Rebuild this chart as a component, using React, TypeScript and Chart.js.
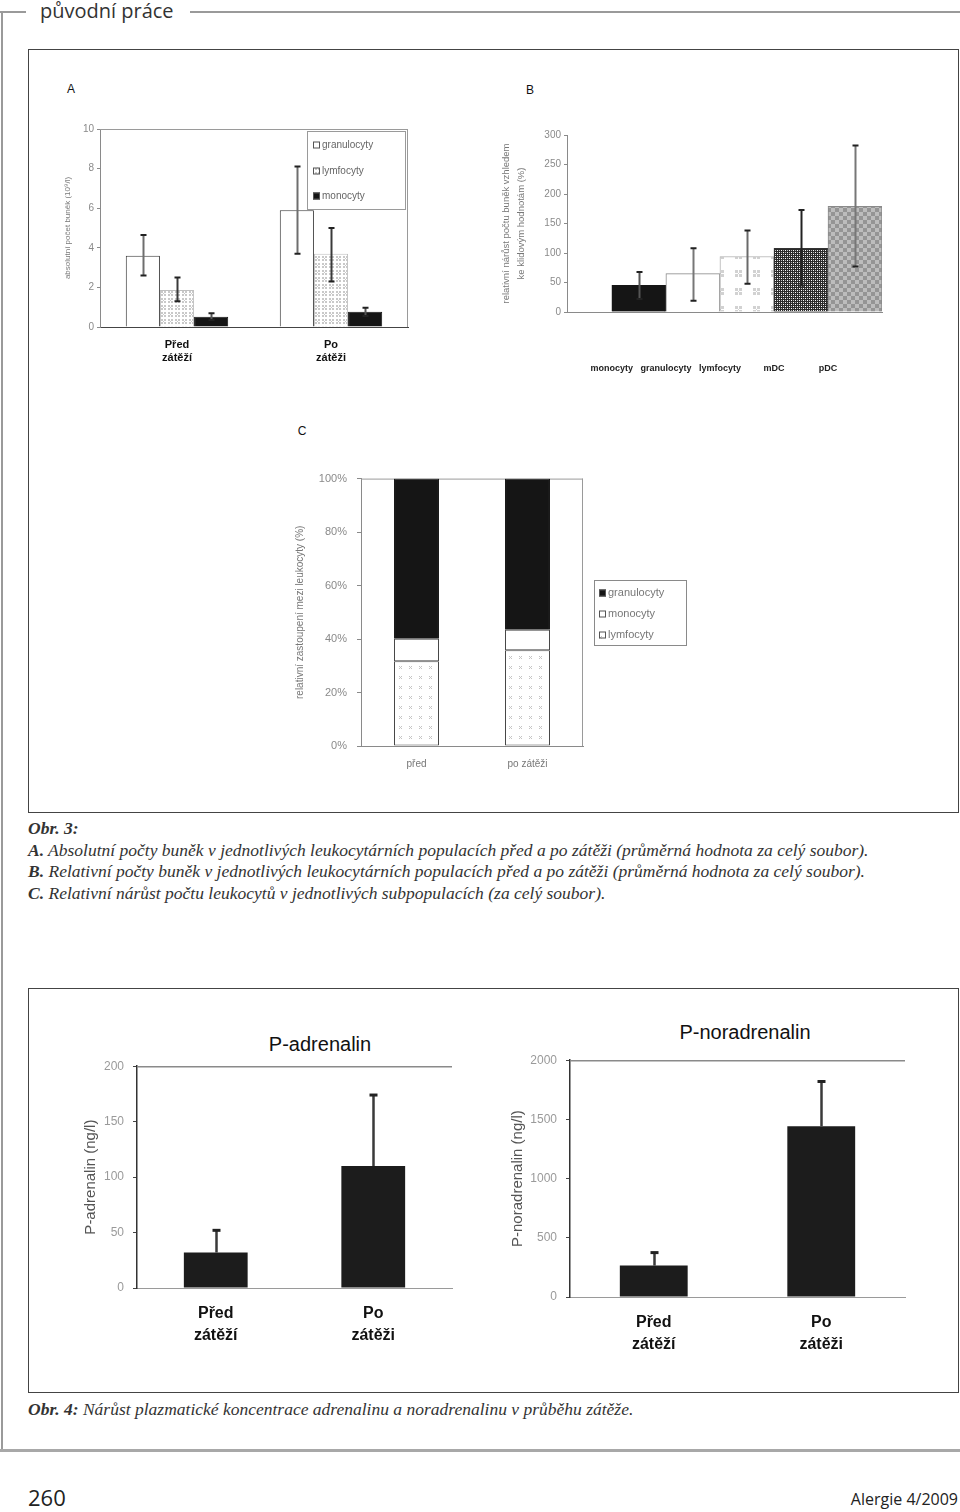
import React, { useEffect, useRef } from 'react';
import { Chart, registerables } from 'chart.js';

Chart.register(...registerables);

// ---------------- DATA ----------------
// Chart A – absolute counts (10^9/l)
const aCategories = [['Před', 'zátěží'], ['Po', 'zátěži']];
const aSeriesNames = ['granulocyty', 'lymfocyty', 'monocyty'];
const aGranulocyty = [3.6, 5.9];
const aGranulocytyErr = [[2.6, 4.65], [3.7, 8.1]];
const aLymfocyty = [1.87, 3.7];
const aLymfocytyErr = [[1.3, 2.5], [2.3, 5.0]];
const aMonocyty = [0.52, 0.77];
const aMonocytyErr = [[0.35, 0.69], [0.55, 0.97]];
const aYMax = 10;
const aYStep = 2;

// Chart B – relative increase (%)
const bCategories = ['monocyty', 'granulocyty', 'lymfocyty', 'mDC', 'pDC'];
const bValues = [45, 65, 94, 108, 179];
const bErrLow = [22, 19, 48, 45, 77];
const bErrHigh = [68, 108, 138, 173, 282];
const bYMax = 300;
const bYStep = 50;

// Chart C – relative composition (%)
const cCategories = ['před', 'po zátěži'];
const cLymfocyty = [31.7, 35.8];
const cMonocyty = [8.4, 7.7];
const cGranulocyty = [59.9, 56.5];

// Obr. 4 – P-adrenalin (ng/l)
const adCategories = [['Před', 'zátěží'], ['Po', 'zátěži']];
const adValues = [32, 110];
const adErrTop = [52, 174];
const adYMax = 200;
const adYStep = 50;

// Obr. 4 – P-noradrenalin (ng/l)
const noCategories = [['Před', 'zátěží'], ['Po', 'zátěži']];
const noValues = [265, 1442];
const noErrTop = [375, 1820];
const noYMax = 2000;
const noYStep = 500;

// ---------------- STYLE HELPERS ----------------
const SANS = '"Liberation Sans", Arial, Helvetica, sans-serif';
const SERIF = '"Liberation Serif", "Times New Roman", serif';

function makePattern(size: number, bg: string, draw: (c: CanvasRenderingContext2D) => void) {
  const t = document.createElement('canvas');
  t.width = size;
  t.height = size;
  const c = t.getContext('2d')!;
  c.fillStyle = bg;
  c.fillRect(0, 0, size, size);
  draw(c);
  const host = document.createElement('canvas').getContext('2d')!;
  return host.createPattern(t, 'repeat')!;
}

function makePatterns() {
  const crossAt = (c: CanvasRenderingContext2D, x: number, y: number, s: number) => {
    c.fillRect(x - s, y - s, s, s);
    c.fillRect(x + 1, y - s, s, s);
    c.fillRect(x, y, 1, 1);
    c.fillRect(x - s, y + 1, s, s);
    c.fillRect(x + 1, y + 1, s, s);
  };
  return {
    dotsA: makePattern(7, '#ffffff', (c) => {
      c.fillStyle = '#c9c9c9';
      crossAt(c, 3, 3, 2);
    }),
    dotsBig: makePattern(18, '#ffffff', (c) => {
      c.fillStyle = '#d2d2d2';
      crossAt(c, 9, 9, 3);
    }),
    dotsC: makePattern(10, '#ffffff', (c) => {
      c.fillStyle = '#c4c4c4';
      crossAt(c, 5, 5, 1);
    }),
    dense: makePattern(4, '#2a2a2a', (c) => {
      c.fillStyle = '#ffffff';
      c.fillRect(0, 0, 1, 1);
      c.fillRect(2, 2, 1, 1);
      c.fillStyle = '#bbbbbb';
      c.fillRect(2, 0, 1, 1);
      c.fillRect(0, 2, 1, 1);
    }),
    gray: makePattern(8, '#959595', (c) => {
      c.fillStyle = '#bdbdbd';
      c.fillRect(0, 0, 4, 4);
      c.fillRect(4, 4, 4, 4);
    }),
  };
}

// ---------------- PLUGINS ----------------
const errorBarsPlugin = {
  id: 'errorBars',
  afterDatasetsDraw(chart: any) {
    const { ctx } = chart;
    const yScale = chart.scales.y;
    chart.data.datasets.forEach((ds: any, di: number) => {
      if (!ds.errors) return;
      const meta = chart.getDatasetMeta(di);
      meta.data.forEach((el: any, i: number) => {
        const e = ds.errors[i];
        if (!e) return;
        const x = Math.round(el.x) + 0.5;
        const y0 = yScale.getPixelForValue(e[0]);
        const y1 = yScale.getPixelForValue(e[1]);
        const color = Array.isArray(ds.errColor) ? ds.errColor[i] : ds.errColor;
        const cap = ds.errCap ?? 6;
        ctx.save();
        ctx.strokeStyle = color;
        ctx.lineWidth = ds.errWidth ?? 2;
        ctx.beginPath();
        ctx.moveTo(x, y0);
        ctx.lineTo(x, y1);
        ctx.stroke();
        ctx.strokeStyle = ds.capColor ?? color;
        ctx.lineWidth = ds.capWidth ?? 2;
        ctx.beginPath();
        ctx.moveTo(x - cap / 2, y1);
        ctx.lineTo(x + cap / 2, y1);
        if (ds.errBothCaps !== false) {
          ctx.moveTo(x - cap / 2, y0);
          ctx.lineTo(x + cap / 2, y0);
        }
        ctx.stroke();
        ctx.restore();
      });
    });
  },
};

const framePlugin = {
  id: 'frame',
  beforeDatasetsDraw(chart: any, _a: any, opts: any) {
    if (!opts || !opts.sides) return;
    const { ctx, chartArea } = chart;
    const { left, right, top, bottom } = chartArea;
    ctx.save();
    ctx.strokeStyle = opts.color;
    ctx.lineWidth = opts.width || 1;
    ctx.beginPath();
    if (opts.sides.includes('top')) {
      ctx.moveTo(left, top + 0.5);
      ctx.lineTo(right, top + 0.5);
    }
    if (opts.sides.includes('right')) {
      ctx.moveTo(right - 0.5, top);
      ctx.lineTo(right - 0.5, bottom);
    }
    ctx.stroke();
    ctx.restore();
  },
};

const boxLegendPlugin = {
  id: 'boxLegend',
  afterDraw(chart: any, _a: any, opts: any) {
    if (!opts || !opts.items) return;
    const { ctx, chartArea } = chart;
    const bx = Math.round((opts.anchor === 'right' ? chartArea.right : chartArea.left) + opts.dx);
    const by = Math.round(chartArea.top + opts.dy);
    ctx.save();
    ctx.fillStyle = '#ffffff';
    ctx.fillRect(bx, by, opts.w, opts.h);
    ctx.strokeStyle = opts.border;
    ctx.lineWidth = 1;
    ctx.strokeRect(bx + 0.5, by + 0.5, opts.w, opts.h);
    ctx.font = opts.font;
    ctx.textBaseline = 'middle';
    ctx.textAlign = 'left';
    opts.items.forEach((di: number, k: number) => {
      const ds = chart.data.datasets[di];
      const yy = Math.round(by + opts.firstRow + k * opts.rowGap);
      const s = opts.swatch;
      const sx = bx + opts.padX;
      ctx.fillStyle = Array.isArray(ds.backgroundColor) ? ds.backgroundColor[0] : ds.backgroundColor;
      ctx.fillRect(sx, yy - s / 2, s, s);
      ctx.strokeStyle = '#555';
      ctx.strokeRect(sx + 0.5, yy - s / 2 + 0.5, s - 1, s - 1);
      ctx.fillStyle = opts.color;
      ctx.fillText(ds.label, sx + s + 2, yy);
    });
    ctx.restore();
  },
};

const PLUGINS = [framePlugin, errorBarsPlugin, boxLegendPlugin];

const fitX = (h: number) => (s: any) => {
  s.height = h;
  s.paddingLeft = 0;
  s.paddingRight = 0;
};
const fitY = (w: number) => (s: any) => {
  s.width = w;
};

// ---------------- CONFIGS ----------------
function configA(P: any) {
  return {
    type: 'bar',
    data: {
      labels: aCategories,
      datasets: [
        { label: aSeriesNames[0], data: aGranulocyty, backgroundColor: '#ffffff', borderColor: '#3a3a3a', borderWidth: 1, errors: aGranulocytyErr, errColor: '#6e6e6e', capColor: '#222' },
        { label: aSeriesNames[1], data: aLymfocyty, backgroundColor: P.dotsA, borderColor: '#c0c0c0', borderWidth: 1, errors: aLymfocytyErr, errColor: '#3a3a3a', capColor: '#222' },
        { label: aSeriesNames[2], data: aMonocyty, backgroundColor: '#151515', borderColor: '#151515', borderWidth: 1, errors: aMonocytyErr, errColor: '#555', capColor: '#222' },
      ],
    },
    options: {
      responsive: false,
      animation: false,
      events: [],
      layout: { padding: { top: 14, right: 7, left: 0, bottom: 0 } },
      datasets: { bar: { categoryPercentage: 0.665, barPercentage: 1 } },
      plugins: {
        legend: { display: false },
        tooltip: { enabled: false },
        frame: { sides: ['top', 'right'], color: '#9a9a9a' },
        boxLegend: { anchor: 'right', dx: -101, dy: 2, w: 98, h: 78, border: '#9a9a9a', items: [0, 1, 2], firstRow: 14, rowGap: 25.5, swatch: 7, padX: 6, font: `10px ${SANS}`, color: '#666' },
      },
      scales: {
        x: {
          grid: { display: false, drawTicks: false },
          border: { color: '#444' },
          ticks: { color: '#111', font: { family: SANS, size: 11, weight: 'bold', lineHeight: 1.2 }, padding: 11, maxRotation: 0, autoSkip: false },
          afterFit: fitX(48),
        },
        y: {
          min: 0,
          max: aYMax,
          ticks: { stepSize: aYStep, color: '#8a8a8a', font: { family: SANS, size: 10 }, padding: 3 },
          grid: { drawOnChartArea: false, tickLength: 3, color: '#8a8a8a' },
          border: { color: '#8a8a8a' },
          title: { display: true, text: 'absolutní počet buněk (10⁹/l)', color: '#7a7a7a', font: { family: SANS, size: 8 }, padding: { top: 8, bottom: 0 } },
          afterFit: fitY(45),
        },
      },
    },
    plugins: PLUGINS,
  };
}

function configB(P: any) {
  return {
    type: 'bar',
    data: {
      datasets: [
        {
          label: 'B',
          data: bValues.map((v, i) => ({ x: i, y: v })),
          backgroundColor: ['#151515', '#ffffff', P.dotsBig, P.dense, P.gray],
          borderColor: ['#151515', '#8a8a8a', '#b0b0b0', '#333', '#8a8a8a'],
          borderWidth: 1,
          barThickness: 54,
          errors: bValues.map((_, i) => [bErrLow[i], bErrHigh[i]]),
          errColor: ['#555', '#777', '#6a6a6a', '#222', '#777'],
          capColor: '#222',
        },
      ],
    },
    options: {
      responsive: false,
      animation: false,
      events: [],
      layout: { padding: { top: 15, right: 8, left: 0, bottom: 0 } },
      plugins: { legend: { display: false }, tooltip: { enabled: false } },
      scales: {
        x: {
          type: 'linear',
          offset: false,
          min: -1.33,
          max: 4.5,
          grid: { display: false, drawTicks: false },
          border: { color: '#8a8a8a' },
          ticks: {
            stepSize: 1,
            autoSkip: false,
            maxRotation: 0,
            callback: (v: number) => (Number.isInteger(v) && bCategories[v] ? bCategories[v] : ''),
            labelOffset: -27,
            padding: 51,
            color: '#222',
            font: { family: SANS, size: 9, weight: 'bold' },
          },
          afterFit: fitX(78),
        },
        y: {
          min: 0,
          max: bYMax,
          ticks: { stepSize: bYStep, color: '#8a8a8a', font: { family: SANS, size: 10 }, padding: 3 },
          grid: { drawOnChartArea: false, tickLength: 3, color: '#8a8a8a' },
          border: { color: '#8a8a8a' },
          title: {
            display: true,
            text: ['relativní nárůst počtu buněk vzhledem', 'ke klidovým hodnotám (%)'],
            color: '#777',
            font: { family: SANS, size: 9.5, lineHeight: 1.6 },
            padding: { top: 4, bottom: 0 },
          },
          afterFit: fitY(72),
        },
      },
    },
    plugins: PLUGINS,
  };
}

function configC(P: any) {
  return {
    type: 'bar',
    data: {
      labels: cCategories,
      datasets: [
        { label: 'lymfocyty', data: cLymfocyty, backgroundColor: P.dotsC, borderColor: '#444', borderWidth: 1, borderSkipped: false },
        { label: 'monocyty', data: cMonocyty, backgroundColor: '#ffffff', borderColor: '#444', borderWidth: 1, borderSkipped: false },
        { label: 'granulocyty', data: cGranulocyty, backgroundColor: '#151515', borderColor: '#151515', borderWidth: 1 },
      ],
    },
    options: {
      responsive: false,
      animation: false,
      events: [],
      layout: { padding: { top: 14, right: 122, left: 0, bottom: 0 } },
      datasets: { bar: { categoryPercentage: 0.405, barPercentage: 1 } },
      plugins: {
        legend: { display: false },
        tooltip: { enabled: false },
        frame: { sides: ['top', 'right'], color: '#9a9a9a' },
        boxLegend: { anchor: 'right', dx: 11, dy: 101, w: 92, h: 65, border: '#8a8a8a', items: [2, 1, 0], firstRow: 13, rowGap: 21, swatch: 7, padX: 5, font: `11px ${SANS}`, color: '#777' },
      },
      scales: {
        x: {
          stacked: true,
          grid: { display: false, drawTicks: false },
          border: { color: '#8a8a8a' },
          ticks: { color: '#777', font: { family: SANS, size: 10 }, padding: 12, maxRotation: 0 },
          afterFit: fitX(36),
        },
        y: {
          stacked: true,
          min: 0,
          max: 100,
          ticks: { stepSize: 20, color: '#8a8a8a', font: { family: SANS, size: 11 }, padding: 10, callback: (v: number) => `${v}%` },
          grid: { drawOnChartArea: false, tickLength: 4, color: '#8a8a8a' },
          border: { color: '#8a8a8a' },
          title: { display: true, text: 'relativní zastoupení mezi leukocyty (%)', color: '#777', font: { family: SANS, size: 10 }, padding: { top: 9, bottom: 0 } },
          afterFit: fitY(76),
        },
      },
    },
    plugins: PLUGINS,
  };
}

function configBottom(labels: any, values: number[], errTop: number[], yMax: number, yStep: number, yTitle: string, yWidth: number, titlePad: number, padRight: number, xHeight: number) {
  return {
    type: 'bar',
    data: {
      labels,
      datasets: [
        {
          label: yTitle,
          data: values,
          backgroundColor: '#1c1c1c',
          borderWidth: 0,
          errors: values.map((v, i) => [v, errTop[i]]),
          errColor: '#3a3a3a',
          capColor: '#222',
          errBothCaps: false,
          errWidth: 2.5,
          capWidth: 3,
          errCap: 8,
        },
      ],
    },
    options: {
      responsive: false,
      animation: false,
      events: [],
      layout: { padding: { top: 16, right: padRight, left: 0, bottom: 0 } },
      datasets: { bar: { categoryPercentage: 0.405, barPercentage: 1 } },
      plugins: {
        legend: { display: false },
        tooltip: { enabled: false },
        frame: { sides: ['top'], color: '#8a8a8a', width: 1.5 },
      },
      scales: {
        x: {
          grid: { display: false, drawTicks: false },
          border: { color: '#9a9a9a' },
          ticks: { color: '#111', font: { family: SANS, size: 16, weight: 'bold', lineHeight: 1.4 }, padding: 14, maxRotation: 0, autoSkip: false },
          afterFit: fitX(xHeight),
        },
        y: {
          min: 0,
          max: yMax,
          ticks: { stepSize: yStep, color: '#9a9a9a', font: { family: SANS, size: 12 }, padding: 9, callback: (v: number) => String(v) },
          grid: { drawOnChartArea: false, tickLength: 4, color: '#444' },
          border: { color: '#333', width: 1.5 },
          title: { display: true, text: yTitle, color: '#555', font: { family: SANS, size: 15 }, padding: { top: titlePad, bottom: 0 } },
          afterFit: fitY(yWidth),
        },
      },
    },
    plugins: PLUGINS,
  };
}

// ---------------- COMPONENTS ----------------
function ChartCanvas({ make, left, top, width, height }: { make: (P: any) => any; left: number; top: number; width: number; height: number }) {
  const ref = useRef<HTMLCanvasElement | null>(null);
  useEffect(() => {
    if (!ref.current) return;
    const P = makePatterns();
    const chart = new Chart(ref.current, make(P));
    return () => chart.destroy();
  }, []);
  return <canvas ref={ref} width={width} height={height} style={{ position: 'absolute', left, top, width, height }} />;
}

function Txt({ x, y, children, style }: { x: number; y: number; children: any; style?: any }) {
  return (
    <div style={{ position: 'absolute', left: x, top: y, whiteSpace: 'nowrap', transform: 'translate(-50%, -50%)', ...style }}>
      {children}
    </div>
  );
}

function Line({ x, y, w, h, color }: { x: number; y: number; w: number; h: number; color: string }) {
  return <div style={{ position: 'absolute', left: x, top: y, width: w, height: h, background: color }} />;
}

export default function App() {
  const captionStyle = { fontFamily: SERIF, fontStyle: 'italic', fontSize: 17.5, color: '#333', lineHeight: '21.5px' };
  return (
    <div style={{ position: 'absolute', left: 0, top: 0, width: 960, height: 1512, background: '#ffffff', overflow: 'hidden' }}>
      {/* page decoration */}
      <Line x={0} y={11} w={26} h={2} color="#9a9a9a" />
      <Line x={190} y={11} w={770} h={2} color="#9a9a9a" />
      <Line x={1} y={11} w={2} h={1440} color="#9a9a9a" />
      <Line x={0} y={1449} w={960} h={3} color="#a8a8a8" />
      <div style={{ position: 'absolute', left: 40, top: -3, fontFamily: '"Open Sans", "Noto Sans", sans-serif', fontSize: 20, color: '#333', whiteSpace: 'nowrap' }}>
        původní práce
      </div>

      {/* Obr. 3 box */}
      <div style={{ position: 'absolute', left: 28, top: 49, width: 929, height: 762, border: '1px solid #444' }} />
      <Txt x={71} y={89} style={{ fontFamily: SANS, fontSize: 12, color: '#111' }}>A</Txt>
      <Txt x={530} y={90} style={{ fontFamily: SANS, fontSize: 12, color: '#111' }}>B</Txt>
      <Txt x={302} y={431} style={{ fontFamily: SANS, fontSize: 12, color: '#111' }}>C</Txt>

      <ChartCanvas make={configA} left={55} top={115} width={360} height={260} />
      <ChartCanvas make={configB} left={495} top={120} width={395} height={270} />
      <ChartCanvas make={configC} left={285} top={462} width={420} height={320} />

      {/* Obr. 3 caption */}
      <div style={{ position: 'absolute', left: 28, top: 818, whiteSpace: 'nowrap', ...captionStyle }}>
        <div><b>Obr. 3:</b></div>
        <div><b>A.</b> Absolutní počty buněk v jednotlivých leukocytárních populacích před a po zátěži (průměrná hodnota za celý soubor).</div>
        <div><b>B.</b> Relativní počty buněk v jednotlivých leukocytárních populacích před a po zátěži (průměrná hodnota za celý soubor).</div>
        <div><b>C.</b> Relativní nárůst počtu leukocytů v jednotlivých subpopulacích (za celý soubor).</div>
      </div>

      {/* Obr. 4 box */}
      <div style={{ position: 'absolute', left: 28, top: 988, width: 929, height: 403, border: '1px solid #444' }} />
      <Txt x={320} y={1044} style={{ fontFamily: SANS, fontSize: 20, color: '#111' }}>P-adrenalin</Txt>
      <Txt x={745} y={1032} style={{ fontFamily: SANS, fontSize: 20, color: '#111' }}>P-noradrenalin</Txt>

      <ChartCanvas
        make={() => configBottom(adCategories, adValues, adErrTop, adYMax, adYStep, 'P-adrenalin (ng/l)', 77, 22, 8, 72)}
        left={60}
        top={1050}
        width={400}
        height={310}
      />
      <ChartCanvas
        make={() => configBottom(noCategories, noValues, noErrTop, noYMax, noYStep, 'P-noradrenalin (ng/l)', 80, 19, 10, 68)}
        left={490}
        top={1044}
        width={425}
        height={321}
      />

      <div style={{ position: 'absolute', left: 28, top: 1399, whiteSpace: 'nowrap', ...captionStyle }}>
        <b>Obr. 4:</b> Nárůst plazmatické koncentrace adrenalinu a noradrenalinu v průběhu zátěže.
      </div>

      {/* footer */}
      <div style={{ position: 'absolute', left: 28, top: 1482, fontFamily: '"Open Sans", "Noto Sans", sans-serif', fontSize: 22, color: '#222' }}>260</div>
      <div style={{ position: 'absolute', right: 2, top: 1488, fontFamily: '"Open Sans", "Noto Sans", sans-serif', fontSize: 16, color: '#222' }}>Alergie 4/2009</div>
    </div>
  );
}
